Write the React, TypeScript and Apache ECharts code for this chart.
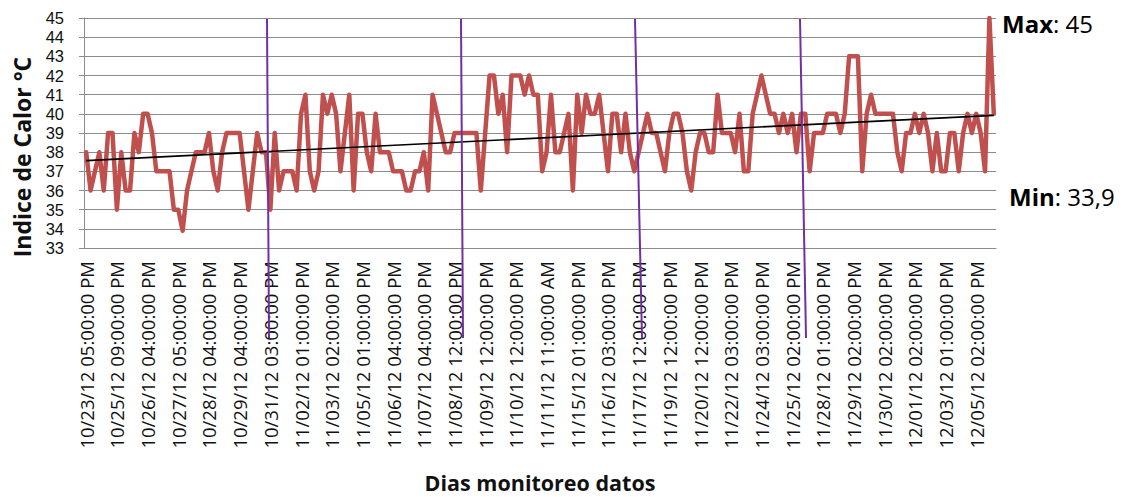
import React, { useEffect, useRef } from "react";
import * as echarts from "echarts";

const tickLabels: string[] = [
  "10/23/12 05:00:00 PM", "10/25/12 09:00:00 PM", "10/26/12 04:00:00 PM", "10/27/12 05:00:00 PM",
  "10/28/12 04:00:00 PM", "10/29/12 04:00:00 PM", "10/31/12 03:00:00 PM", "11/02/12 01:00:00 PM",
  "11/03/12 02:00:00 PM", "11/05/12 01:00:00 PM", "11/06/12 04:00:00 PM", "11/07/12 04:00:00 PM",
  "11/08/12 12:00:00 PM", "11/09/12 12:00:00 PM", "11/10/12 12:00:00 PM", "11/11/12 11:00:00 AM",
  "11/15/12 01:00:00 PM", "11/16/12 03:00:00 PM", "11/17/12 12:00:00 PM", "11/19/12 12:00:00 PM",
  "11/20/12 12:00:00 PM", "11/22/12 03:00:00 PM", "11/24/12 03:00:00 PM", "11/25/12 02:00:00 PM",
  "11/28/12 01:00:00 PM", "11/29/12 02:00:00 PM", "11/30/12 02:00:00 PM", "12/01/12 02:00:00 PM",
  "12/03/12 01:00:00 PM", "12/05/12 02:00:00 PM",
];
const labelEvery = 7;

const heatIndex: number[] = [
  38, 36, 37, 38, 36, 39, 39, 35, 38, 36,
  36, 39, 38, 40, 40, 39, 37, 37, 37, 37,
  35, 35, 33.9, 36, 37, 38, 38, 38, 39, 37,
  36, 38, 39, 39, 39, 39, 37, 35, 37, 39,
  38, 38, 35, 39, 36, 37, 37, 37, 36, 40,
  41, 37, 36, 37, 41, 40, 41, 40, 37, 39,
  41, 36, 40, 40, 38, 37, 40, 38, 38, 38,
  37, 37, 37, 36, 36, 37, 37, 38, 36, 41,
  40, 39, 38, 38, 39, 39, 39, 39, 39, 39,
  36, 39, 42, 42, 40, 41, 38, 42, 42, 42,
  41, 42, 41, 41, 37, 38, 41, 38, 38, 39,
  40, 36, 41, 39, 41, 40, 40, 41, 39, 37,
  40, 40, 38, 40, 38, 37, 38, 39, 40, 39,
  39, 38, 37, 39, 40, 40, 39, 37, 36, 38,
  39, 39, 38, 38, 41, 39, 39, 39, 38, 40,
  37, 37, 40, 41, 42, 41, 40, 40, 39, 40,
  39, 40, 38, 40, 40, 37, 39, 39, 39, 40,
  40, 40, 39, 40, 43, 43, 43, 37, 40, 41,
  40, 40, 40, 40, 40, 38, 37, 39, 39, 40,
  39, 40, 39, 37, 39, 37, 37, 39, 39, 37,
  39, 40, 39, 40, 39, 37, 45, 40,
];

const trendStart = 37.56;
const trendEnd = 39.92;

const yMin = 33;
const yMax = 45;
const yStep = 1;

export default function App() {
  const ref = useRef<HTMLDivElement>(null);
  useEffect(() => {
    if (!ref.current) return;
    const chart = echarts.init(ref.current, undefined, { renderer: "svg" });
    const n = heatIndex.length;
    const categories = heatIndex.map((_, i) =>
      i % labelEvery === 0 && tickLabels[i / labelEvery] ? tickLabels[i / labelEvery] : ""
    );
    const trend = heatIndex.map((_, i) => (i === 0 ? trendStart : i === n - 1 ? trendEnd : null));
    const maxV = Math.max(...heatIndex);
    const minV = Math.min(...heatIndex);
    const fmt = (v: number) => String(v).replace(".", ",");
    const font = "Open Sans";
    const purple = "#7030A0";
    chart.setOption({
      animation: false,
      textStyle: { fontFamily: font },
      grid: { left: 84, top: 18, width: 912, height: 230, containLabel: false },
      xAxis: {
        type: "category",
        data: categories,
        boundaryGap: true,
        axisLine: { show: true, lineStyle: { color: "#8c8c8c", width: 1 } },
        axisTick: { show: false },
        axisLabel: {
          interval: labelEvery - 1,
          rotate: 90,
          margin: 13,
          fontSize: 18.5,
          lineHeight: 20,
          color: "#111",
          fontFamily: font,
        },
        splitLine: { show: false },
        name: "Dias monitoreo datos",
        nameLocation: "middle",
        nameGap: 223,
        nameTextStyle: { fontSize: 21.5, lineHeight: 22, fontWeight: "bold", color: "#111", fontFamily: font },
      },
      yAxis: {
        type: "value",
        min: yMin,
        max: yMax,
        interval: yStep,
        axisLine: { show: true, lineStyle: { color: "#8c8c8c", width: 1 } },
        axisTick: { show: true, length: 5, lineStyle: { color: "#8c8c8c" } },
        axisLabel: { margin: 20, fontSize: 16.5, lineHeight: 17, color: "#111", fontFamily: "Liberation Sans" },
        splitLine: { show: true, lineStyle: { color: "#8c8c8c", width: 1 } },
      },
      series: [
        {
          type: "line",
          data: heatIndex,
          symbol: "none",
          lineStyle: { color: "#C0504D", width: 4.5, join: "round", cap: "round" },
          z: 2,
        },
        {
          type: "line",
          data: trend,
          connectNulls: true,
          symbol: "none",
          lineStyle: { color: "#000", width: 1.6 },
          z: 3,
        },
      ],
      graphic: [
        {
          type: "text",
          x: 22,
          y: 157,
          rotation: Math.PI / 2,
          style: {
            text: "Indice de Calor °C",
            fontSize: 23,
            fontWeight: "bold",
            fontFamily: font,
            fill: "#111",
            align: "center",
            verticalAlign: "middle",
          },
        },
        {
          type: "text",
          x: 1002,
          y: 23,
          style: {
            text: `{b|Max}: ${fmt(maxV)}`,
            fontSize: 24,
            fontFamily: font,
            fill: "#000",
            verticalAlign: "middle",
            rich: { b: { fontSize: 24, fontWeight: "bold", fontFamily: font, fill: "#000" } },
          },
        },
        {
          type: "text",
          x: 1009,
          y: 196,
          style: {
            text: `{b|Min}: ${fmt(minV)}`,
            fontSize: 24,
            fontFamily: font,
            fill: "#000",
            verticalAlign: "middle",
            rich: { b: { fontSize: 24, fontWeight: "bold", fontFamily: font, fill: "#000" } },
          },
        },
        { type: "line", shape: { x1: 267, y1: 19, x2: 269, y2: 338 }, style: { stroke: purple, lineWidth: 2 }, z: 10 },
        { type: "line", shape: { x1: 461, y1: 19, x2: 463, y2: 338 }, style: { stroke: purple, lineWidth: 2 }, z: 10 },
        { type: "line", shape: { x1: 635, y1: 19, x2: 642, y2: 338 }, style: { stroke: purple, lineWidth: 2 }, z: 10 },
        { type: "line", shape: { x1: 800, y1: 19, x2: 806, y2: 338 }, style: { stroke: purple, lineWidth: 2 }, z: 10 },
      ],
    });
    return () => chart.dispose();
  }, []);
  return (
    <div
      ref={ref}
      style={{ position: "absolute", left: 0, top: 0, width: 1130, height: 497, background: "#fff" }}
    />
  );
}
